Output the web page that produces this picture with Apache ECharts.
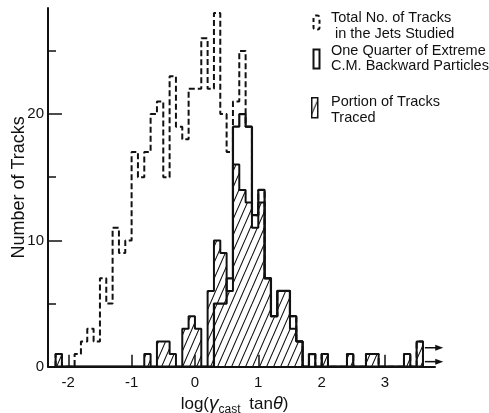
<!DOCTYPE html>
<html>
<head>
<meta charset="utf-8">
<script src="https://cdn.jsdelivr.net/npm/echarts@6/dist/echarts.min.js"></script>
<style>
  html, body { margin: 0; padding: 0; background: #fff; }
  #chart { width: 489px; height: 413px; }
</style>
</head>
<body>
<div id="chart"></div>
<script>
// Left edges of the 0.1-wide bins in log(γ_cast tanθ)
const binWidth = 0.1;
const binLefts = [
  -2.2, -2.1, -2.0, -1.9, -1.8, -1.7, -1.6, -1.5, -1.4, -1.3,
  -1.2, -1.1, -1.0, -0.9, -0.8, -0.7, -0.6, -0.5, -0.4, -0.3,
  -0.2, -0.1, 0.0, 0.1, 0.2, 0.3, 0.4, 0.5, 0.6, 0.7,
  0.8, 0.9, 1.0, 1.1, 1.2, 1.3, 1.4, 1.5, 1.6, 1.7,
  1.8, 1.9, 2.0, 2.1, 2.2, 2.3, 2.4, 2.5, 2.6, 2.7,
  2.8, 2.9, 3.0, 3.1, 3.2, 3.3, 3.4, 3.5
];

// Total number of tracks in the jets studied (dashed outline)
const totalTracks = [
  1, 0, 0, 1, 2, 3, 2, 7, 5, 11,
  9, 10, 17, 15, 17, 20, 21, 15, 23, 19,
  18, 22, 22, 26, 22, 28, 20, 17, 21, 25,
  19, 12, 14, 7, 4, 6, 6, 4, 2, 0,
  1, 0, 1, 0, 0, 0, 1, 0, 0, 1,
  1, 0, 0, 0, 0, 1, 0, 2
];

// One quarter of the extreme C.M. backward particles (solid outline)
const quarterBackward = [
  0, 0, 0, 0, 0, 0, 0, 0, 0, 0,
  0, 0, 0, 0, 0, 0, 0, 0, 0, 0,
  0, 0, 0, 0, 0, 5, 5, 7, 19, 20,
  19, 12, 14, 7, 4, 6, 6, 4, 2, 0,
  1, 0, 0, 0, 0, 0, 0, 0, 0, 0,
  0, 0, 0, 0, 0, 0, 0, 0
];

// Portion of the tracks that were traced (hatched)
const tracedTracks = [
  1, 0, 0, 0, 0, 0, 0, 0, 0, 0,
  0, 0, 0, 0, 1, 0, 2, 2, 1, 0,
  3, 4, 3, 0, 6, 10, 9, 6, 16, 14,
  13, 11, 13, 7, 4, 6, 6, 3, 2, 0,
  0, 0, 1, 0, 0, 0, 1, 0, 0, 1,
  1, 0, 0, 0, 0, 1, 0, 2
];

// Tracks beyond the right edge of the plot, marked with arrows
const overflowArrows = [1.5, 0.4];

const xTickValues = [-2, -1, 0, 1, 2, 3];
const yTickValues = [0, 5, 10, 15, 20, 25];
const yMajorTicks = [10, 20];
const yLabelValues = [0, 10, 20];

const FONT = 'Liberation Sans';
const INK = '#111';

// Outline of a histogram as a step line through the bin edges
function stepPoints(counts) {
  const pts = [[binLefts[0], 0]];
  counts.forEach((c, i) => pts.push([binLefts[i], c]));
  pts.push([+(binLefts[binLefts.length - 1] + binWidth).toFixed(2), 0]);
  return pts;
}

// Diagonal "////" hatch tile
function hatchTile() {
  const w = 7, h = 16;
  const c = document.createElement('canvas');
  c.width = w; c.height = h;
  const g = c.getContext('2d');
  g.strokeStyle = INK;
  g.lineWidth = 1.1;
  g.beginPath();
  for (let k = -1; k <= 1; k++) {
    g.moveTo(k * w, h);
    g.lineTo(k * w + w, 0);
  }
  g.stroke();
  return c;
}
const hatch = { image: hatchTile(), repeat: 'repeat' };

const chart = echarts.init(document.getElementById('chart'), null, { renderer: 'canvas' });

const legendItems = [
  { icon: 'dashed', top: 13, h: 14, lines: ['Total No. of Tracks', ' in the Jets Studied'], ty: [18, 34] },
  { icon: 'solid', top: 47, h: 19, lines: ['One Quarter of Extreme', 'C.M. Backward Particles'], ty: [51, 66] },
  { icon: 'hatch', top: 97, h: 20, lines: ['Portion of Tracks', 'Traced'], ty: [102, 118] }
];

const graphics = [];
legendItems.forEach(it => {
  const style = { stroke: INK, lineWidth: 2, fill: 'none' };
  if (it.icon === 'dashed') style.lineDash = [4, 3];
  if (it.icon === 'hatch') { style.fill = hatch; style.lineWidth = 1.5; }
  graphics.push({
    type: 'rect', left: 311, top: it.top,
    shape: { width: 6, height: it.h, r: it.icon === 'dashed' ? 2 : 0 },
    style
  });
  it.lines.forEach((t, i) => {
    graphics.push({
      type: 'text', left: 331, top: it.ty[i] - 8,
      style: { text: t, font: '14.5px "' + FONT + '"', fill: INK }
    });
  });
});

const option = {
  animation: false,
  backgroundColor: '#fff',
  grid: { left: 48, right: 54, top: 8, bottom: 46.3, containLabel: false, outerBoundsMode: 'none' },
  xAxis: {
    type: 'value', min: -2.32, max: 3.79,
    axisLine: { onZero: false, lineStyle: { color: INK, width: 2 } },
    axisTick: { show: true, inside: true, length: 12, customValues: xTickValues, lineStyle: { color: INK, width: 1.5 } },
    axisLabel: {
      customValues: xTickValues, margin: 9, color: INK, fontFamily: FONT, fontSize: 15,
      formatter: v => (v < 0 ? '-' + Math.abs(v) : String(v))
    },
    splitLine: { show: false },
    name: '{n|log(}{g|γ}{s|cast}{n| tan}{t|θ}{n|)}',
    nameLocation: 'middle', nameGap: 26, nameMoveOverlap: false,
    nameTextStyle: {
      color: INK, fontFamily: FONT, padding: [0, 14, 0, 0],
      rich: {
        n: { fontSize: 17, fontFamily: FONT, color: INK },
        g: { fontSize: 19, fontStyle: 'italic', fontFamily: FONT, color: INK },
        s: { fontSize: 12, fontFamily: FONT, color: INK, padding: [11, 4, 0, 0] },
        t: { fontSize: 18, fontStyle: 'italic', fontFamily: FONT, color: INK }
      }
    }
  },
  yAxis: [
    {
      type: 'value', min: 0, max: 28.4,
      axisLine: { show: true, onZero: false, lineStyle: { color: INK, width: 2 } },
      axisTick: { show: true, inside: true, length: 8, customValues: yTickValues, lineStyle: { color: INK, width: 1.5 } },
      axisLabel: { customValues: yLabelValues, margin: 4, color: INK, fontFamily: FONT, fontSize: 15 },
      splitLine: { show: false },
      name: 'Number of Tracks', nameLocation: 'middle', nameGap: 20, nameRotate: 90, nameMoveOverlap: false,
      nameTextStyle: { color: INK, fontFamily: FONT, fontSize: 18 }
    },
    {
      type: 'value', min: 0, max: 28.4, position: 'left',
      axisLine: { show: false, onZero: false },
      axisTick: { show: true, inside: true, length: 14, customValues: yMajorTicks, lineStyle: { color: INK, width: 1.5 } },
      axisLabel: { show: false },
      splitLine: { show: false }
    }
  ],
  graphic: graphics,
  series: [
    {
      name: 'Total No. of Tracks in the Jets Studied',
      type: 'line', step: 'end', symbol: 'none', z: 2,
      data: stepPoints(totalTracks),
      lineStyle: { color: INK, width: 2, type: [6, 3] }
    },
    {
      name: 'Portion of Tracks Traced',
      type: 'line', step: 'end', symbol: 'none', z: 3,
      data: stepPoints(tracedTracks),
      lineStyle: { color: INK, width: 2 },
      areaStyle: { color: hatch, opacity: 1 }
    },
    {
      name: 'One Quarter of Extreme C.M. Backward Particles',
      type: 'line', step: 'end', symbol: 'none', z: 4,
      data: stepPoints(quarterBackward),
      lineStyle: { color: INK, width: 2.2 }
    },
    {
      // overflow arrows past the last bin
      name: 'overflow',
      type: 'custom', z: 5, clip: false,
      data: overflowArrows.map(h => [3.63, h]),
      encode: { x: 0, y: 1 },
      renderItem: (params, api) => {
        const p0 = api.coord([api.value(0), api.value(1)]);
        const p1 = api.coord([3.92, api.value(1)]);
        return {
          type: 'group',
          children: [
            { type: 'line', shape: { x1: p0[0], y1: p0[1], x2: p1[0] - 4, y2: p1[1] },
              style: { stroke: INK, lineWidth: 1.5 } },
            { type: 'polygon', shape: { points: [[p1[0], p1[1]], [p1[0] - 8, p1[1] - 3], [p1[0] - 8, p1[1] + 3]] },
              style: { fill: INK } }
          ]
        };
      }
    }
  ]
};

chart.setOption(option);
</script>
</body>
</html>
